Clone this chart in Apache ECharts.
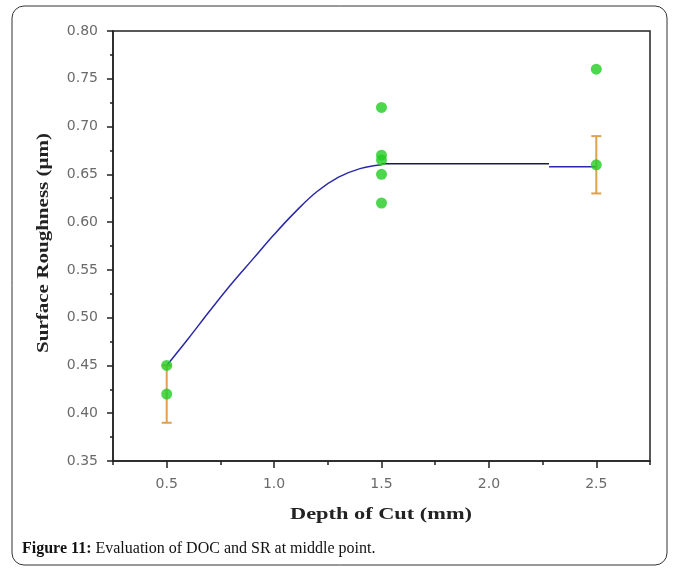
<!DOCTYPE html>
<html><head><meta charset="utf-8">
<script src="https://cdn.jsdelivr.net/npm/echarts@6/dist/echarts.min.js"></script>
<style>html,body{margin:0;padding:0;background:#fff}#c{width:673px;height:570px}</style>
</head><body><div id="c"></div>
<script>
// Data
const xTicks = [0.5, 1.0, 1.5, 2.0, 2.5];
const measured = [
  [0.5, 0.45], [0.5, 0.42],
  [1.5, 0.72], [1.5, 0.67], [1.5, 0.665], [1.5, 0.65], [1.5, 0.62],
  [2.5, 0.76], [2.5, 0.66]
];
const errorBars = [ // [x, low, high]
  [0.5, 0.39, 0.45],
  [2.5, 0.63, 0.69]
];
const fitCurve = [
  [0.5, 0.450], [0.6, 0.478], [0.7, 0.507], [0.8, 0.535], [0.9, 0.561], [1.0, 0.587],
  [1.1, 0.611], [1.2, 0.632], [1.3, 0.647], [1.4, 0.656], [1.5, 0.660]
];
const fitFlat = [[1.5, 0.661], [2.28, 0.661]];
const fitTail = [[2.28, 0.658], [2.5, 0.658]];
const xTitle = 'Depth of Cut (mm)';
const yTitle = 'Surface Roughness (μm)';

const titleFontStr = 'bold 16px "Liberation Serif"';
function fitScale(text, target) {
  const ctx = document.createElement('canvas').getContext('2d');
  ctx.font = titleFontStr;
  return target / ctx.measureText(text).width;
}

const chart = echarts.init(document.getElementById('c'), null, {renderer: 'canvas'});
const labelFont = {color: '#6a6a6a', fontFamily: 'DejaVu Sans', fontSize: 14};
chart.setOption({
  animation: false,
  backgroundColor: '#fff',
  grid: {left: 113, right: 23, top: 31, bottom: 109, show: true, borderColor: '#222', borderWidth: 1.5, backgroundColor: 'transparent'},
  xAxis: [{
    type: 'value', min: 0.25, max: 2.75, interval: 0.25,
    axisLine: {lineStyle: {color: '#222', width: 1.5}},
    axisTick: {show: true, length: 4, lineStyle: {color: '#222', width: 1.5}},
    axisLabel: {show: false},
    splitLine: {show: false}
  }, {
    type: 'value', min: 0.25, max: 2.75, position: 'bottom',
    axisLine: {show: false},
    axisTick: {show: true, length: 7, customValues: xTicks, lineStyle: {color: '#222', width: 1.5}},
    axisLabel: Object.assign({show: true, margin: 16, customValues: xTicks, formatter: v => v.toFixed(1)}, labelFont),
    splitLine: {show: false}
  }],
  yAxis: {
    type: 'value', min: 0.35, max: 0.80, interval: 0.05,
    axisLine: {show: true, lineStyle: {color: '#222', width: 1.5}},
    axisTick: {show: true, length: 6, lineStyle: {color: '#222', width: 1.5}},
    minorTick: {show: true, splitNumber: 2, length: 3, lineStyle: {color: '#222', width: 1.5}},
    axisLabel: Object.assign({margin: 15, formatter: v => v.toFixed(2)}, labelFont),
    splitLine: {show: false}
  },
  series: [
    {type: 'line', data: fitCurve, smooth: 0.4, symbol: 'none', lineStyle: {color: '#2a2aa8', width: 1.5}, z: 2},
    {type: 'line', data: fitFlat, symbol: 'none', lineStyle: {color: '#1c1c4a', width: 1.5}, z: 2},
    {type: 'line', data: fitTail, symbol: 'none', lineStyle: {color: '#2a2aa8', width: 1.5}, z: 2},
    {
      type: 'custom', data: errorBars, z: 3,
      renderItem: function (params, api) {
        const x = api.value(0);
        const lo = api.coord([x, api.value(1)]);
        const hi = api.coord([x, api.value(2)]);
        const w = 5;
        const st = {stroke: '#e0a050', lineWidth: 2};
        return {type: 'group', children: [
          {type: 'line', shape: {x1: lo[0], y1: lo[1], x2: hi[0], y2: hi[1]}, style: st},
          {type: 'line', shape: {x1: lo[0] - w, y1: lo[1], x2: lo[0] + w, y2: lo[1]}, style: st},
          {type: 'line', shape: {x1: hi[0] - w, y1: hi[1], x2: hi[0] + w, y2: hi[1]}, style: st}
        ]};
      }
    },
    {type: 'scatter', data: measured, symbol: 'circle', symbolSize: 11, itemStyle: {color: '#22cc22'}, z: 4}
  ],
  graphic: [
    {type: 'rect', shape: {x: 12, y: 6, width: 655, height: 559, r: 12}, style: {fill: 'none', stroke: '#333', lineWidth: 1}, silent: true},
    {type: 'text', x: 381, y: 515, scaleX: fitScale(xTitle, 182), style: {
      text: xTitle, font: titleFontStr, fill: '#222', align: 'center', verticalAlign: 'middle'}},
    {type: 'text', x: 44, y: 243, rotation: Math.PI / 2, scaleX: fitScale(yTitle, 220), style: {
      text: yTitle, font: titleFontStr, fill: '#222', align: 'center', verticalAlign: 'middle'}},
    {type: 'text', left: 22, top: 541, style: {
      text: '{b|Figure 11:} Evaluation of DOC and SR at middle point.',
      rich: {b: {fontWeight: 'bold', fontFamily: 'Liberation Serif', fontSize: 16, fill: '#111'}},
      fontFamily: 'Liberation Serif', fontSize: 16, fill: '#111'
    }}
  ]
});
</script></body></html>
